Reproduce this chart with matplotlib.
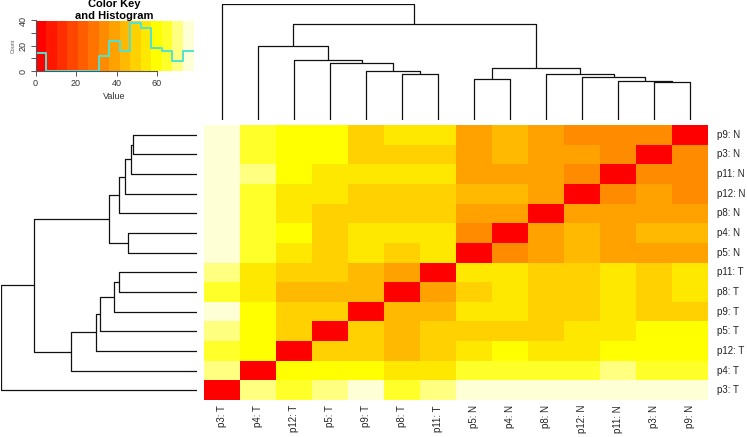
import numpy as np
import matplotlib
matplotlib.use("Agg")
import matplotlib.pyplot as plt
from matplotlib.colors import ListedColormap, BoundaryNorm, hsv_to_rgb

plt.rcParams['font.family'] = ['Liberation Sans', 'DejaVu Sans']

# ---------------- data ----------------
# sample order (bottom-to-top for rows, left-to-right for columns)
labels = ["p3: T", "p4: T", "p12: T", "p5: T", "p9: T", "p8: T", "p11: T",
          "p5: N", "p4: N", "p8: N", "p12: N", "p11: N", "p3: N", "p9: N"]

values = [
    [0, 70, 65, 70, 78, 65, 70, 76, 76, 76, 76, 76, 76, 76],
    [70, 0, 60, 60, 60, 55, 55, 65, 65, 65, 65, 70, 65, 65],
    [65, 60, 0, 49, 49, 44, 49, 55, 60, 55, 55, 60, 60, 60],
    [70, 60, 49, 0, 49, 44, 49, 49, 49, 49, 55, 55, 60, 60],
    [78, 60, 49, 49, 0, 44, 44, 55, 55, 49, 49, 55, 49, 49],
    [65, 55, 44, 44, 44, 0, 39, 49, 55, 49, 49, 55, 49, 55],
    [70, 55, 49, 49, 44, 39, 0, 55, 55, 49, 49, 55, 49, 55],
    [76, 65, 55, 49, 55, 49, 55, 0, 34, 39, 44, 39, 39, 39],
    [76, 65, 60, 49, 55, 55, 55, 34, 0, 39, 44, 39, 44, 44],
    [76, 65, 55, 49, 49, 49, 49, 39, 39, 0, 39, 39, 39, 39],
    [76, 65, 55, 55, 49, 49, 49, 44, 44, 39, 0, 34, 39, 34],
    [76, 70, 60, 55, 55, 55, 55, 39, 39, 39, 34, 0, 34, 34],
    [76, 65, 60, 60, 49, 49, 49, 39, 44, 39, 39, 34, 0, 34],
    [76, 65, 60, 60, 49, 55, 55, 39, 44, 39, 34, 34, 34, 0],
]

# dendrogram merges: (child a, child b, height); ints refer to earlier merges
merges = [
    ("p8: T", "p11: T", 233),
    ("p9: T", 0, 249),
    ("p5: T", 1, 291),
    ("p12: T", 2, 304),
    ("p4: T", 3, 377),
    ("p5: N", "p4: N", 208),
    ("p3: N", "p9: N", 192),
    ("p11: N", 6, 197),
    ("p12: N", 7, 217),
    ("p8: N", 8, 235),
    (5, 9, 263),
    (4, 10, 488),
    ("p3: T", 11, 588),
]

key_ticks = [0, 20, 40, 60]
count_ticks = [0, 10, 20, 30, 40]
count_ticklabels = ["0", "", "20", "", "40"]

# ---------------- style ----------------
W, H = 747, 437
fig = plt.figure(figsize=(W / 100, H / 100), dpi=100)

def px_axes(l, t, r, b):
    return fig.add_axes([l / W, 1 - b / H, (r - l) / W, (b - t) / H])

# heat.colors(15) as in R
n = 15
j = n // 4
i = n - j
cols = [hsv_to_rgb((h, 1, 1)) for h in np.linspace(0, 1 / 6, i)]
cols += [hsv_to_rgb((1 / 6, s, 1)) for s in np.linspace(1 - 1 / (2 * j), 1 / (2 * j), j)]
cmap = ListedColormap(cols)
cmap.set_over(cols[-1])
M = np.array(values, dtype=float)
breaks = np.linspace(M.min(), M.max(), n + 1)
norm = BoundaryNorm(breaks, cmap.N)

# ---------------- heatmap ----------------
HL, HT, HR, HB = 204, 125, 708, 400
ax = px_axes(HL, HT, HR, HB)
N = len(labels)
ax.pcolormesh(np.arange(N + 1), np.arange(N + 1), M, cmap=cmap, norm=norm,
              edgecolors='none', antialiased=False)
ax.set_xlim(0, N)
ax.set_ylim(0, N)
ax.axis('off')
cw = (HR - HL) / N
ch = (HB - HT) / N
for k, lab in enumerate(labels):
    ax.text(N + 9 / cw, k + 0.5, lab, ha='left', va='center', fontsize=7,
            color='#222222', clip_on=False)
    ax.text(k + 0.5, -5 / ch, lab, ha='center', va='top', rotation=90,
            fontsize=7, color='#222222', clip_on=False)

# ---------------- dendrograms ----------------
pos = {lab: k + 0.5 for k, lab in enumerate(labels)}
segs = []
cl_pos, cl_h = [], []
for a, b, h in merges:
    pa = cl_pos[a] if isinstance(a, int) else pos[a]
    ha_ = cl_h[a] if isinstance(a, int) else 0
    pb = cl_pos[b] if isinstance(b, int) else pos[b]
    hb_ = cl_h[b] if isinstance(b, int) else 0
    segs.append(([pa, pa, pb, pb], [ha_, h, h, hb_]))
    cl_pos.append((pa + pb) / 2)
    cl_h.append(h)
root = merges[-1][2]

axc = px_axes(HL, 4, HR, 120)
for xs, ys in segs:
    axc.plot(xs, ys, color='#111111', lw=0.9, solid_capstyle='butt')
axc.set_xlim(0, N)
axc.set_ylim(0, root)
axc.axis('off')

axr = px_axes(0.7, HT, 197, HB)
for xs, ys in segs:
    axr.plot(ys, xs, color='#111111', lw=0.9, solid_capstyle='butt')
axr.set_xlim(root, 0)
axr.set_ylim(0, N)
axr.axis('off')

# ---------------- color key + histogram ----------------
axk = px_axes(35.5, 20.5, 193.5, 71)
mids = (breaks[:-1] + breaks[1:]) / 2
axk.pcolormesh(breaks, [0, 40], mids[None, :], cmap=cmap, norm=norm,
               edgecolors='none', antialiased=False)
counts, _ = np.histogram(M.ravel(), bins=breaks)
hy = np.append(counts, counts[-1]) / counts.max() * 0.95 * 40
axk.step(breaks, hy, where='post', color='#4fe3d3', lw=1.4)
axk.set_xlim(breaks[0], breaks[-1])
axk.set_ylim(0, 40)
for s in ['top', 'right']:
    axk.spines[s].set_visible(False)
for s in ['left', 'bottom']:
    axk.spines[s].set_color('#555555')
    axk.spines[s].set_linewidth(0.8)
axk.spines['bottom'].set_bounds(0, 60)
axk.set_xticks(key_ticks)
axk.set_xticklabels([str(t) for t in key_ticks], fontsize=6.5, color='#333333')
axk.set_yticks(count_ticks)
axk.set_yticklabels(count_ticklabels, fontsize=6.5, color='#333333',
                    rotation=90, va='center')
axk.tick_params(axis='both', length=3.5, width=0.7, color='#555555', pad=2)
axk.set_xlabel("Value", fontsize=6.5, color='#333333', labelpad=3)
axk.set_ylabel("Count", fontsize=3.8, color='#555555', labelpad=2)
fig.text(114 / W, 1 - 4 / H, "Color Key", ha='center', va='center',
         fontsize=8, fontweight='bold')
fig.text(114 / W, 1 - 16 / H, "and Histogram", ha='center', va='center',
         fontsize=8, fontweight='bold')

fig.savefig("out.png", dpi=100)
